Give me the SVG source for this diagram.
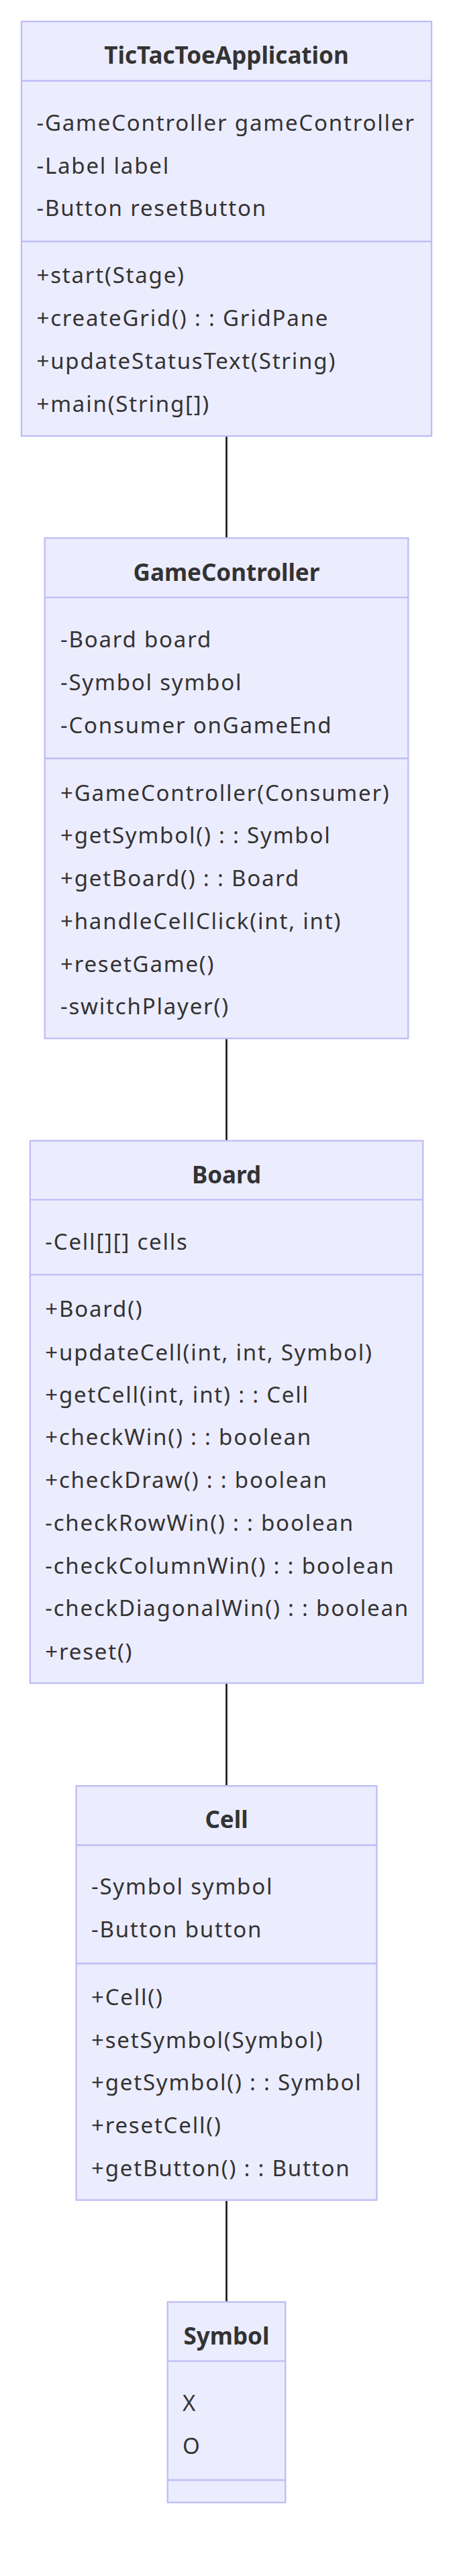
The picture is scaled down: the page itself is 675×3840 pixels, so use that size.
<svg xmlns="http://www.w3.org/2000/svg" width="675" height="3840" viewBox="0 0 675 3840">
<style>
.box{fill:#ECECFF;stroke:#BDBDF6;stroke-width:2.3}
.div{stroke:#BDBDF6;stroke-width:2.3}
.t{font-family:"Noto Sans","Open Sans","DejaVu Sans",sans-serif;font-size:33px;letter-spacing:1.8px;fill:#333333}
.h{font-family:"Noto Sans","Open Sans","DejaVu Sans",sans-serif;font-size:35px;font-weight:bold;fill:#333333;text-anchor:middle}
.edge{stroke:#111111;stroke-width:2.6;fill:none}
</style>
<rect width="675" height="3840" fill="#ffffff"/>
<g id="connectors">
<line class="edge" x1="337.5" y1="651" x2="337.5" y2="801"/>
<line class="edge" x1="337.5" y1="1549" x2="337.5" y2="1700"/>
<line class="edge" x1="337.5" y1="2510" x2="337.5" y2="2661"/>
<line class="edge" x1="337.5" y1="3281" x2="337.5" y2="3431"/>
</g>
<g id="TicTacToeApplication">
<rect class="box" x="32" y="32" width="611" height="618"/>
<line class="div" x1="32" y1="120.5" x2="643" y2="120.5"/>
<line class="div" x1="32" y1="360" x2="643" y2="360"/>
<text class="h" x="337.5" y="95">TicTacToeApplication</text>
<text class="t" x="54.5" y="195">-GameController gameController</text>
<text class="t" x="54.5" y="258.5">-Label label</text>
<text class="t" x="54.5" y="322">-Button resetButton</text>
<text class="t" x="54.5" y="422">+start(Stage)</text>
<text class="t" x="54.5" y="486">+createGrid() : : GridPane</text>
<text class="t" x="54.5" y="550">+updateStatusText(String)</text>
<text class="t" x="54.5" y="614">+main(String[])</text>
</g>
<g id="GameController">
<rect class="box" x="66.7" y="802" width="541.6" height="746"/>
<line class="div" x1="66.7" y1="890.6" x2="608.3" y2="890.6"/>
<line class="div" x1="66.7" y1="1130.5" x2="608.3" y2="1130.5"/>
<text class="h" x="337.5" y="866">GameController</text>
<text class="t" x="90" y="965">-Board board</text>
<text class="t" x="90" y="1029">-Symbol symbol</text>
<text class="t" x="90" y="1093">-Consumer onGameEnd</text>
<text class="t" x="90" y="1194">+GameController(Consumer)</text>
<text class="t" x="90" y="1257">+getSymbol() : : Symbol</text>
<text class="t" x="90" y="1321">+getBoard() : : Board</text>
<text class="t" x="90" y="1385">+handleCellClick(int, int)</text>
<text class="t" x="90" y="1449">+resetGame()</text>
<text class="t" x="90" y="1512">-switchPlayer()</text>
</g>
<g id="Board">
<rect class="box" x="44.8" y="1700.5" width="585.4" height="808.5"/>
<line class="div" x1="44.8" y1="1788.3" x2="630.2" y2="1788.3"/>
<line class="div" x1="44.8" y1="1900.2" x2="630.2" y2="1900.2"/>
<text class="h" x="337.5" y="1763.6">Board</text>
<text class="t" x="67.3" y="1863">-Cell[][] cells</text>
<text class="t" x="67.3" y="1963.4">+Board()</text>
<text class="t" x="67.3" y="2027.7">+updateCell(int, int, Symbol)</text>
<text class="t" x="67.3" y="2090.8">+getCell(int, int) : : Cell</text>
<text class="t" x="67.3" y="2154">+checkWin() : : boolean</text>
<text class="t" x="67.3" y="2218">+checkDraw() : : boolean</text>
<text class="t" x="67.3" y="2282">-checkRowWin() : : boolean</text>
<text class="t" x="67.3" y="2346">-checkColumnWin() : : boolean</text>
<text class="t" x="67.3" y="2409.4">-checkDiagonalWin() : : boolean</text>
<text class="t" x="67.3" y="2473.7">+reset()</text>
</g>
<g id="Cell">
<rect class="box" x="113.6" y="2662.2" width="447.8" height="617.4"/>
<line class="div" x1="113.6" y1="2750.5" x2="561.4" y2="2750.5"/>
<line class="div" x1="113.6" y1="2927" x2="561.4" y2="2927"/>
<text class="h" x="337.5" y="2724.5">Cell</text>
<text class="t" x="136" y="2824">-Symbol symbol</text>
<text class="t" x="136" y="2887.8">-Button button</text>
<text class="t" x="136" y="2988.8">+Cell()</text>
<text class="t" x="136" y="3052.6">+setSymbol(Symbol)</text>
<text class="t" x="136" y="3116.3">+getSymbol() : : Symbol</text>
<text class="t" x="136" y="3180">+resetCell()</text>
<text class="t" x="136" y="3243.9">+getButton() : : Button</text>
</g>
<g id="Symbol">
<rect class="box" x="249.7" y="3431.5" width="175.6" height="298.9"/>
<line class="div" x1="249.7" y1="3519.7" x2="425.3" y2="3519.7"/>
<line class="div" x1="249.7" y1="3697" x2="425.3" y2="3697"/>
<text class="h" x="337.5" y="3494.6">Symbol</text>
<text class="t" x="272" y="3594.4">X</text>
<text class="t" x="272" y="3658">O</text>
</g>
</svg>
